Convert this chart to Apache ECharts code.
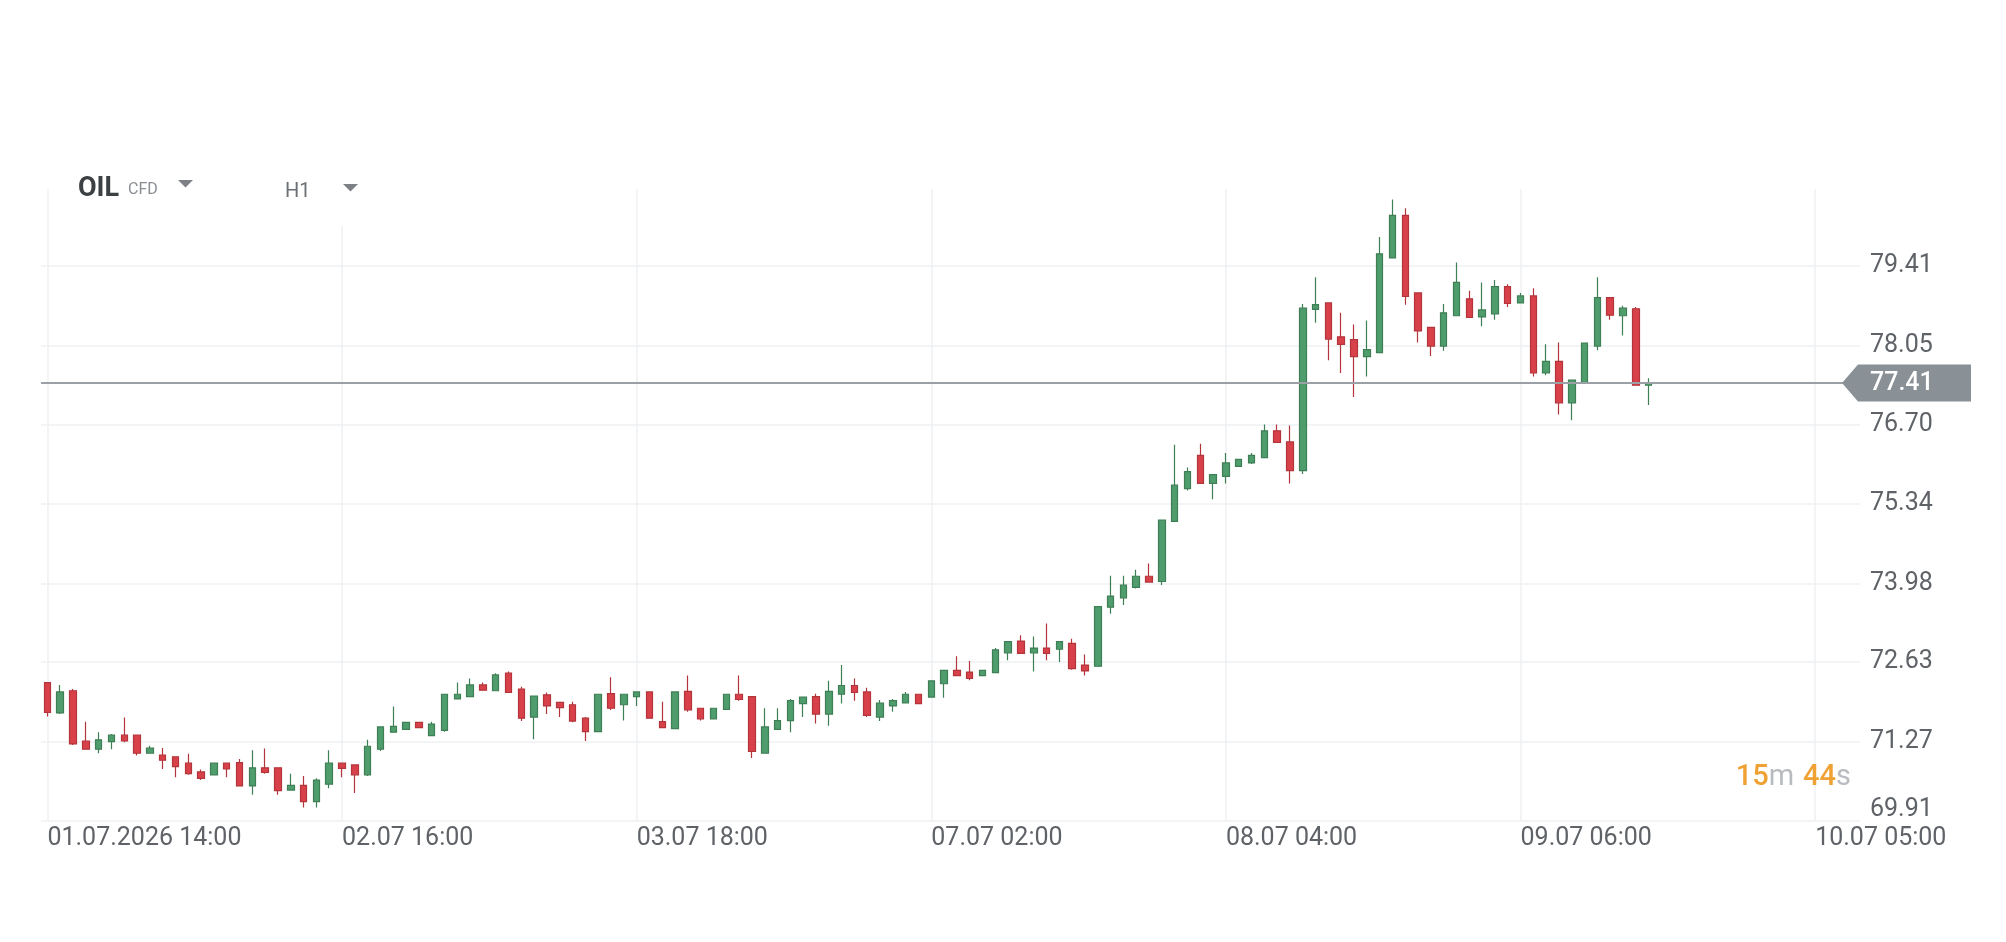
<!DOCTYPE html>
<html>
<head>
<meta charset="utf-8">
<title>OIL CFD H1</title>
<script src="https://cdn.jsdelivr.net/npm/echarts@6.0.0/dist/echarts.min.js"></script>
<style>
html, body { margin: 0; padding: 0; background: #fff; }
#report { width: 2006px; height: 942px; }
</style>
</head>
<body>
<div id="report"></div>
<script>
// time axis labels and the candle slot they sit on
var tickLabels = ['01.07.2026 14:00', '02.07 16:00', '03.07 18:00', '07.07 02:00', '08.07 04:00', '09.07 06:00', '10.07 05:00'];
var tickIndex = [0, 23, 46, 69, 92, 115, 138];
var priceTicks = [69.91, 71.27, 72.63, 73.98, 75.34, 76.70, 78.05, 79.41];
var lastPrice = 77.41;
var slotCount = 142;

// hourly candles (H1)
var opens = [72.28, 71.76, 72.14, 71.28, 71.14, 71.27, 71.38, 71.38, 71.07, 71.04,
	71.01, 70.90, 70.75, 70.70, 70.90, 70.91, 70.51, 70.82, 70.82, 70.44,
	70.52, 70.24, 70.54, 70.90, 70.87, 70.70, 71.14, 71.43, 71.48, 71.60,
	71.37, 71.46, 72.00, 72.04, 72.24, 72.14, 72.44, 72.17, 71.69, 72.07,
	71.94, 71.90, 71.67, 71.44, 72.09, 71.90, 72.04, 72.12, 71.61, 71.49,
	72.13, 71.84, 71.66, 71.82, 72.08, 72.04, 71.07, 71.48, 71.63, 71.92,
	72.04, 71.74, 72.08, 72.23, 72.12, 71.69, 71.88, 71.93, 72.08, 72.03,
	72.26, 72.49, 72.46, 72.40, 72.45, 72.79, 72.99, 72.79, 72.87, 72.85,
	72.95, 72.58, 72.56, 73.57, 73.73, 73.91, 74.10, 74.01, 75.04, 75.60,
	76.17, 75.69, 75.81, 75.98, 76.04, 76.13, 76.59, 76.40, 75.91, 78.67,
	78.78, 78.20, 78.15, 77.86, 77.93, 79.55, 80.28, 78.95, 78.36, 78.04,
	78.56, 78.85, 78.54, 78.59, 79.06, 78.78, 78.90, 77.58, 77.78, 77.07,
	77.41, 78.04, 78.87, 78.56, 78.68, 77.37];
var closes = [71.77, 72.12, 71.23, 71.14, 71.30, 71.38, 71.28, 71.07, 71.16, 70.95,
	70.84, 70.72, 70.64, 70.90, 70.80, 70.51, 70.82, 70.74, 70.43, 70.52,
	70.24, 70.61, 70.90, 70.81, 70.70, 71.19, 71.52, 71.53, 71.60, 71.51,
	71.57, 72.08, 72.08, 72.24, 72.15, 72.41, 72.11, 71.67, 72.05, 71.88,
	71.85, 71.62, 71.44, 72.08, 71.84, 72.08, 72.12, 71.67, 71.51, 72.12,
	71.81, 71.66, 71.84, 72.08, 71.99, 71.10, 71.52, 71.63, 71.97, 72.03,
	71.74, 72.13, 72.23, 72.11, 71.72, 71.93, 71.97, 72.08, 71.92, 72.31,
	72.49, 72.40, 72.35, 72.49, 72.84, 72.98, 72.78, 72.87, 72.78, 72.98,
	72.52, 72.48, 73.58, 73.76, 73.95, 74.10, 74.00, 75.06, 75.66, 75.89,
	75.69, 75.84, 76.04, 76.10, 76.17, 76.59, 76.39, 75.91, 78.69, 78.75,
	78.16, 78.07, 77.86, 77.98, 79.62, 80.28, 78.89, 78.30, 78.04, 78.61,
	79.13, 78.53, 78.66, 79.06, 78.77, 78.90, 77.58, 77.78, 77.07, 77.46,
	78.09, 78.87, 78.57, 78.69, 77.37, 77.41];
var lows = [71.70, 71.74, 71.21, 71.14, 71.07, 71.14, 71.26, 71.03, 71.07, 70.80,
	70.66, 70.70, 70.61, 70.70, 70.66, 70.50, 70.36, 70.72, 70.36, 70.43,
	70.14, 70.14, 70.47, 70.66, 70.39, 70.68, 71.11, 71.42, 71.48, 71.51,
	71.36, 71.44, 72.00, 72.04, 72.15, 72.14, 72.11, 71.62, 71.31, 71.74,
	71.69, 71.60, 71.28, 71.44, 71.81, 71.63, 71.88, 71.66, 71.51, 71.48,
	71.78, 71.63, 71.66, 71.82, 71.97, 70.99, 71.07, 71.48, 71.43, 71.69,
	71.58, 71.54, 71.92, 71.97, 71.69, 71.62, 71.78, 71.93, 71.92, 72.03,
	72.02, 72.40, 72.32, 72.40, 72.45, 72.66, 72.78, 72.47, 72.66, 72.63,
	72.50, 72.40, 72.56, 73.46, 73.61, 73.89, 74.00, 73.95, 75.04, 75.57,
	75.69, 75.42, 75.69, 75.98, 76.02, 76.13, 76.39, 75.69, 75.85, 78.44,
	77.80, 77.58, 77.17, 77.52, 77.93, 79.55, 78.75, 78.10, 77.87, 77.96,
	78.56, 78.53, 78.38, 78.49, 78.71, 78.78, 77.52, 77.54, 76.87, 76.77,
	77.41, 77.97, 78.49, 78.22, 77.37, 77.03];
var highs = [72.29, 72.24, 72.17, 71.61, 71.43, 71.40, 71.68, 71.39, 71.20, 71.16,
	71.01, 71.06, 70.79, 70.90, 70.91, 70.97, 71.12, 71.15, 70.82, 70.72,
	70.68, 70.64, 71.12, 70.91, 70.87, 71.30, 71.53, 71.87, 71.61, 71.60,
	71.61, 72.09, 72.28, 72.35, 72.28, 72.44, 72.47, 72.21, 72.05, 72.11,
	71.95, 71.95, 71.69, 72.09, 72.37, 72.09, 72.12, 72.12, 71.95, 72.13,
	72.40, 71.84, 71.84, 72.08, 72.40, 72.04, 71.84, 71.84, 72.00, 72.04,
	72.09, 72.31, 72.58, 72.35, 72.19, 71.98, 72.00, 72.12, 72.08, 72.31,
	72.50, 72.73, 72.65, 72.49, 72.87, 72.99, 73.09, 73.07, 73.29, 72.99,
	73.03, 72.76, 73.58, 74.11, 74.11, 74.21, 74.32, 75.06, 76.35, 75.96,
	76.37, 75.84, 76.21, 76.10, 76.21, 76.70, 76.70, 76.68, 78.76, 79.22,
	78.78, 78.61, 78.41, 78.48, 79.91, 80.55, 80.40, 78.95, 78.36, 78.76,
	79.47, 78.99, 79.13, 79.17, 79.10, 78.95, 79.03, 78.07, 78.10, 77.46,
	78.09, 79.22, 78.87, 78.73, 78.71, 77.49];

var gridLeft = 41, gridRight = 146, gridTop = 189, gridBottom = 121;
var labelColor = '#5f6368';
var gridColor = '#eef0f3';

var myChart = echarts.init(document.getElementById('report'));

var slots = [];
for (var s = 0; s < slotCount; s++) {
	slots.push(String(s));
}
var candles = [];
for (var i = 0; i < opens.length; i++) {
	candles.push([opens[i], closes[i], lows[i], highs[i]]);
}

var option = {
	animation: false,
	backgroundColor: '#fff',
	textStyle: { fontFamily: 'Roboto' },
	grid: { left: gridLeft, right: gridRight, top: gridTop, bottom: gridBottom },
	xAxis: [{
		type: 'category',
		data: slots,
		boundaryGap: true,
		show: false
	}, {
		//only for the date labels and vertical lines
		type: 'value',
		position: 'bottom',
		min: -0.5,
		max: slotCount - 0.5,
		axisLine: { show: false },
		axisTick: { show: false, customValues: tickIndex },
		axisLabel: {
			customValues: tickIndex,
			formatter: function (v) {
				var k = tickIndex.indexOf(v);
				return k < 0 ? '' : tickLabels[k];
			},
			align: 'left',
			margin: 5,
			fontSize: 25,
			color: labelColor,
			fontFamily: 'Roboto'
		},
		splitLine: { show: true, lineStyle: { color: gridColor, width: 1.5 } }
	}],
	yAxis: {
		type: 'value',
		position: 'right',
		min: 69.91,
		max: 80.73,
		axisLine: { show: false },
		axisTick: { show: false, customValues: priceTicks },
		axisLabel: {
			customValues: priceTicks,
			margin: 10,
			fontSize: 25,
			color: labelColor,
			fontFamily: 'Roboto',
			formatter: function (v) {
				var t = v.toFixed(2);
				return v === priceTicks[0] ? '{low|' + t + '}' : t;
			},
			rich: {
				low: { fontSize: 25, color: labelColor, fontFamily: 'Roboto', padding: [0, 0, 22, 0] }
			}
		},
		splitLine: { show: true, lineStyle: { color: gridColor, width: 1.5 } }
	},
	series: [{
		type: 'candlestick',
		xAxisIndex: 0,
		yAxisIndex: 0,
		data: candles,
		barWidth: 7,
		itemStyle: {
			color: '#4f9c6c',
			color0: '#d8414a',
			borderColor: '#3e7f56',
			borderColor0: '#b3343b',
			borderWidth: 1.2
		},
		markLine: {
			silent: true,
			symbol: 'none',
			label: { show: false },
			lineStyle: { color: '#9aa0a5', width: 2, type: 'solid' },
			data: [{ yAxis: lastPrice }]
		}
	}]
};
myChart.setOption(option);

// price tag, countdown and header drawn after the axes are known
var py = myChart.convertToPixel({ yAxisIndex: 0 }, lastPrice);
var gx = myChart.getWidth() - gridRight;
var gy = myChart.getHeight() - gridBottom;

myChart.setOption({
	graphic: [{
		type: 'rect',
		shape: { x: 268, y: 160, width: 110, height: 66 },
		style: { fill: '#fff' },
		z: 10
	}, {
		type: 'text',
		x: 78, y: 189,
		style: { text: 'OIL', fontSize: 27, fontWeight: 'bold', fontFamily: 'Roboto', fill: '#3c4043', verticalAlign: 'middle' },
		z: 11
	}, {
		type: 'text',
		x: 128, y: 190,
		style: { text: 'CFD', fontSize: 16, fontFamily: 'Roboto', fill: '#8a8e93', verticalAlign: 'middle' },
		z: 11
	}, {
		type: 'polygon',
		shape: { points: [[178, 180], [193, 180], [185.5, 187.5]] },
		style: { fill: '#7d8186' },
		z: 11
	}, {
		type: 'text',
		x: 285, y: 192,
		style: { text: 'H1', fontSize: 20, fontFamily: 'Roboto', fill: '#6b7075', verticalAlign: 'middle' },
		z: 11
	}, {
		type: 'polygon',
		shape: { points: [[343, 184], [358, 184], [350.5, 191.5]] },
		style: { fill: '#7d8186' },
		z: 11
	}, {
		type: 'polygon',
		shape: { points: [[gx - 18, py], [gx - 2, py - 18.5], [gx + 111, py - 18.5], [gx + 111, py + 18.5], [gx - 2, py + 18.5]] },
		style: { fill: '#899096' },
		z: 20
	}, {
		type: 'text',
		x: gx + 10, y: py + 1,
		style: { text: lastPrice.toFixed(2), fontSize: 25, fontWeight: 500, fontFamily: 'Roboto', fill: '#fff', verticalAlign: 'middle' },
		z: 21
	}, {
		type: 'text',
		x: gx - 9, y: gy - 43,
		style: {
			text: '{n|15}{u|m}{gap|}{n|44}{u|s}',
			align: 'right',
			verticalAlign: 'middle',
			rich: {
				n: { fontSize: 29, fontFamily: 'Roboto', fontWeight: 500, fill: '#f0a133' },
				u: { fontSize: 29, fontFamily: 'Roboto', fill: '#b8bcc0' },
				gap: { width: 9 }
			}
		},
		z: 21
	}]
});
</script>
</body>
</html>
